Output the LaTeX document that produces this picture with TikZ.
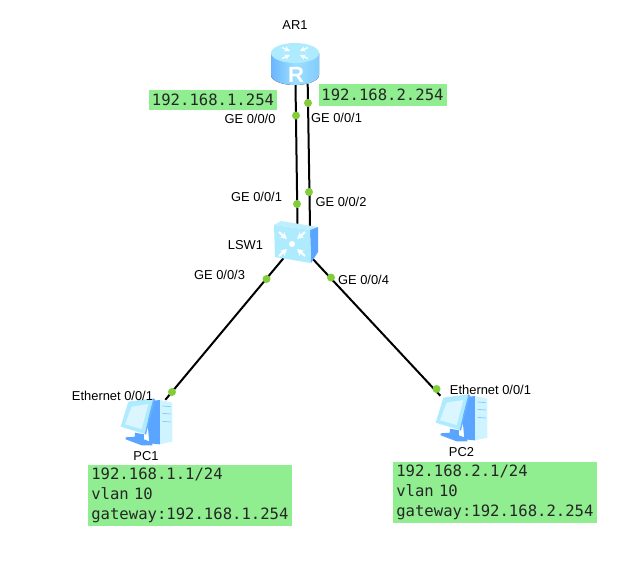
\documentclass[tikz,border=0pt]{standalone}
\usepackage{fontspec}
\setmainfont{Liberation Sans}
\newfontfamily\boxfont{DejaVu Sans Mono}
\definecolor{boxgreen}{RGB}{144,238,144}
\definecolor{portgreen}{RGB}{130,205,60}
\definecolor{iconlight}{RGB}{175,235,255}
\definecolor{iconmid}{RGB}{130,205,255}
\definecolor{icondark}{RGB}{90,165,255}
\tikzset{
  routericon/.pic={
    \fill[left color=icondark!60!iconmid, right color=iconmid, middle color=iconlight!60!iconmid]
      (-24,-11) -- (-24,11) arc[start angle=180, end angle=0, x radius=24, y radius=10] -- (24,-11) -- cycle;
    \fill[iconlight] (0,-11) ellipse[x radius=24, y radius=10];
    \begin{scope}[shift={(0,-11)}, yscale=.42]
    \foreach \a in {45,135,225,315}
      \draw[white, line width=1.4pt, -stealth] (\a:18) -- (\a:7);
    \end{scope}
  },
  switchicon/.pic={
    \fill[iconlight!80!white] (-18,-19) -- (-11,-23) -- (26,-17) -- (18,-14) -- cycle;
    \fill[icondark] (18,-14) -- (26,-17) -- (26,8) -- (19,19) -- cycle;
    \fill[iconlight] (-18,-19) -- (18,-14) -- (19,19) -- (-17,13) -- cycle;
    \fill[white] (0,0) circle (3);
    \foreach \sx/\sy in {-1/-1,1/-1,-1/1,1/1}
      \draw[white, line width=2pt, -stealth] (\sx*13,\sy*12) -- (\sx*5,\sy*5);
  },
  pcicon/.pic={
    \begin{scope}[x=.3333pt, y=-.3333pt]
    \fill[iconlight!60!white] (275,70) -- (300,60) -- (337,68) -- (337,185) -- (300,193) -- (270,190) -- cycle;
    \fill[icondark] (280,62) -- (300,60) -- (300,193) -- (268,190) -- (262,120) -- cycle;
    \draw[iconmid, line width=.7pt] (307,78) -- (333,80) (307,100) -- (333,102) (307,124) -- (333,126);
    \fill[icondark] (225,158) -- (252,163) -- (252,178) -- (277,188) -- (277,196) -- (245,196) -- (197,178) -- (197,172) -- (225,170) -- cycle;
    \fill[iconlight] (205,65) -- (280,55) -- (254,162) -- (182,140) -- cycle;
    \fill[icondark!70!iconmid] (280,55) -- (285,58) -- (258,164) -- (254,162) -- cycle;
    \fill[white!55!iconlight] (215,80) -- (265,72) -- (245,147) -- (195,133) -- cycle;
    \end{scope}
  }
}

\begin{document}
\begin{tikzpicture}[x=1pt, y=-1pt]
   \tikzstyle{link}=[draw=black, line width=2pt]
   \tikzstyle{port}=[circle, fill=portgreen, inner sep=0pt, minimum size=8pt]
   \tikzstyle{device}=[inner sep=0pt, minimum width=46pt, minimum height=40pt]
   \tikzstyle{tag}=[inner sep=0pt, font=\fontsize{12.9}{15}\selectfont]
   \tikzstyle{ipbox}=[fill=boxgreen, inner sep=0pt, font=\boxfont\fontsize{15.6}{20}\selectfont, text=black!85]
   \tikzstyle{ipnote}=[ipbox, align=left, minimum width=204pt, minimum height=61pt, text width=198pt]

\useasboundingbox (0,0) rectangle (633,563);

% devices
\node[device] (ar1) at (295,64) {};
\node[device, minimum height=32pt] (lsw1) at (297,242) {};
\node[device, minimum width=52pt, minimum height=46pt] (pc1) at (146,423) {};
\node[device, minimum width=52pt, minimum height=46pt] (pc2) at (462,419) {};

% links
\draw[link] ([xshift=.5pt]ar1.south) -- ([xshift=.5pt]lsw1.north);
\draw[link] ([xshift=12.7pt]ar1.south) -- ([xshift=13pt]lsw1.north);
\draw[link] (lsw1) -- (pc1);
\draw[link] (lsw1) -- (pc2);

% icons
\pic at (295,64) {routericon};
\pic at (292,244) {switchicon};
\pic at (60,380) {pcicon};
\pic at (375,376) {pcicon};
\node[inner sep=0pt, text=white, font=\bfseries\fontsize{22}{22}\selectfont] (rlogo) at (296,75) {R};

% ports
\node[port] (p1) at (296,115.5) {};
\node[port] (p2) at (308,103) {};
\node[port] (p3) at (297,204) {};
\node[port] (p4) at (309,192) {};
\node[port] (p5) at (266.5,279) {};
\node[port] (p6) at (331,277.5) {};
\node[port] (p7) at (172,392) {};
\node[port] (p8) at (436.5,389) {};

% labels
\node[tag] (ar1name) at (295,25) {AR1};
\node[tag] (lsw1name) at (245.5,245) {LSW1};
\node[tag] (pc1name) at (146,456.5) {PC1};
\node[tag] (pc2name) at (461.5,452.5) {PC2};
\node[tag] (t1) at (250,119) {GE 0/0/0};
\node[tag] (t2) at (336.5,118) {GE 0/0/1};
\node[tag] (t3) at (256.5,197) {GE 0/0/1};
\node[tag] (t4) at (341,202) {GE 0/0/2};
\node[tag] (t5) at (219.5,275) {GE 0/0/3};
\node[tag] (t6) at (363.5,280) {GE 0/0/4};
\node[tag] (t7) at (112.5,395.5) {Ethernet 0/0/1};
\node[tag] (t8) at (490.5,389.5) {Ethernet 0/0/1};

% addresses
\node[ipbox, minimum width=128pt, minimum height=20pt] (ip1) at (213,99.5) {192.168.1.254};
\node[ipbox, minimum width=128pt, minimum height=22pt] (ip2) at (382.5,95) {192.168.2.254};
\node[ipnote] (note1) at (190.3,495.5) {192.168.1.1/24\\vlan 10\\gateway:192.168.1.254};
\node[ipnote] (note2) at (495.3,492.8) {192.168.2.1/24\\vlan 10\\gateway:192.168.2.254};

\end{tikzpicture}
\end{document}
